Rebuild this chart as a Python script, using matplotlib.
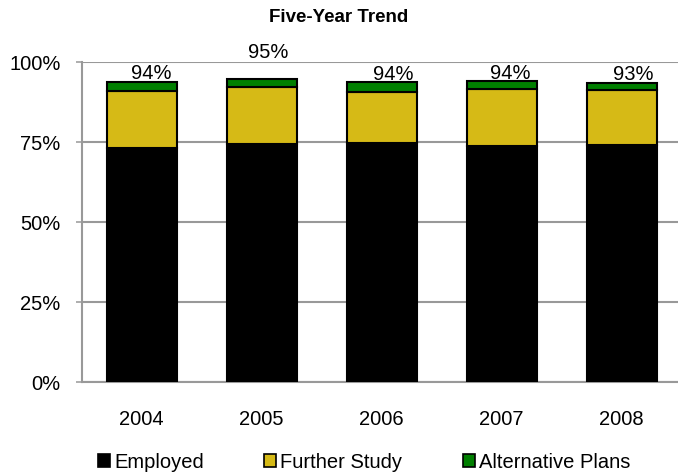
import numpy as np
from matplotlib import pyplot as plt
from matplotlib.patches import Rectangle

plt.rcParams["font.family"] = ["Liberation Sans", "DejaVu Sans"]

years = ["2004", "2005", "2006", "2007", "2008"]
employed = [73.0, 74.3, 74.6, 73.7, 74.0]
further_study = [18.0, 18.0, 16.1, 17.8, 17.3]
alternative_plans = [2.8, 2.3, 2.9, 2.7, 2.0]

series_names = ["Employed", "Further Study", "Alternative Plans"]
series_colors = ["#000000", "#D6BA16", "#007F00"]

# label nudges in pixels (the 2005 label sits higher in the original)
label_dx = [10, 6, 12, 9, 12]
label_dy = [8, 27, 8, 7, 9]

fig = plt.figure(figsize=(6.78, 4.74), dpi=100)
ax = fig.add_axes([81.7 / 678, 1 - 382 / 474, 600 / 678, 320 / 474])

x = np.arange(len(years))
bottom = np.zeros(len(years))
for name, vals, color in zip(series_names, [employed, further_study, alternative_plans], series_colors):
    ax.bar(x, vals, width=0.583, bottom=bottom, color=color, edgecolor="black",
           linewidth=1.5, label=name, zorder=3)
    bottom = bottom + np.array(vals)

for i, total in enumerate(bottom):
    ax.annotate(f"{total:.0f}%", (x[i], total), xytext=(label_dx[i] * 0.72, label_dy[i] * 0.72),
                textcoords="offset points", ha="center", va="center", fontsize=14.5,
                annotation_clip=False)

ax.set_xlim(-0.5, len(years) - 0.5)
ax.set_ylim(0, 100)
ax.set_yticks([0, 25, 50, 75, 100])
ax.set_yticklabels(["0%", "25%", "50%", "75%", "100%"])
ax.set_xticks(x)
ax.set_xticklabels(years)
ax.tick_params(axis="y", length=4.3, width=1.1, color="#999999", pad=11, labelsize=14.5)
ax.tick_params(axis="x", length=0, pad=20, labelsize=14.5)
ax.grid(axis="y", color="#999999", linewidth=1.5, zorder=0)
ax.set_axisbelow(True)
for side in ["top", "right"]:
    ax.spines[side].set_visible(False)
for side in ["left", "bottom"]:
    ax.spines[side].set_color("#999999")
    ax.spines[side].set_linewidth(1.5)

fig.suptitle("Five-Year Trend", x=0.5, y=1 - 17 / 474, va="center", fontsize=13.5, fontweight="bold")

handles = [Rectangle((0, 0), 1, 1, facecolor=c, edgecolor="black", linewidth=1.2) for c in series_colors]
fig.legend(handles, series_names, loc="center", bbox_to_anchor=(364 / 678, 1 - 462 / 474), ncol=3,
           frameon=False, fontsize=14.5, handlelength=0.6, handleheight=0.6, handletextpad=0.2,
           columnspacing=3.0)

fig.savefig("out.png", dpi=100)
